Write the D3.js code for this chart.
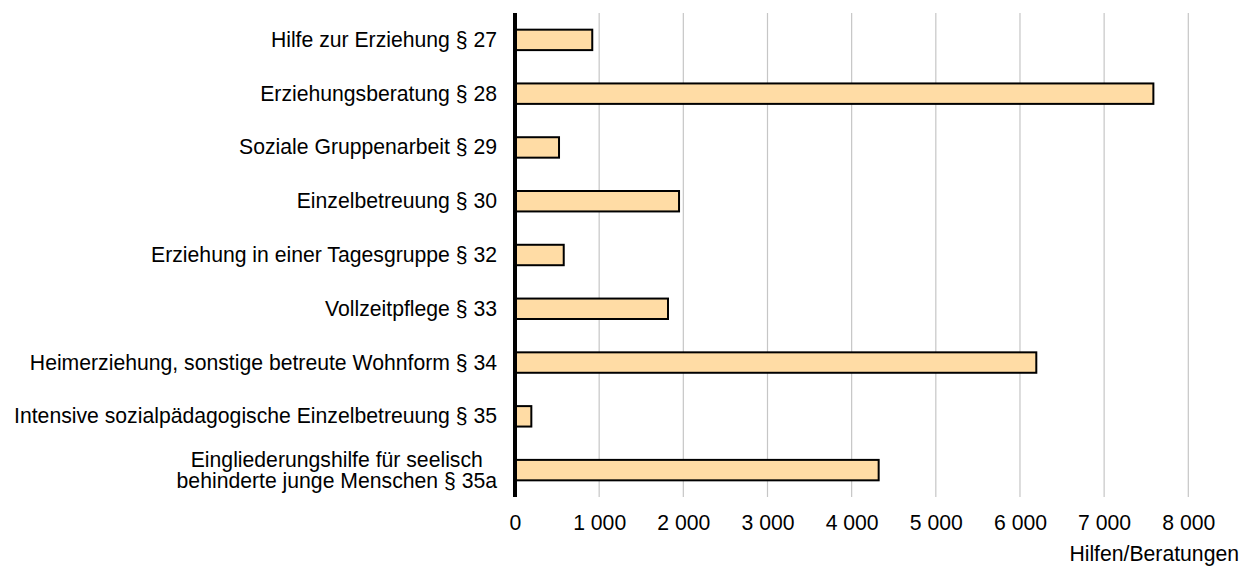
<!DOCTYPE html>
<html>
<head>
<meta charset="utf-8">
<script src="https://cdn.jsdelivr.net/npm/d3@7"></script>
<style>
  html, body { margin: 0; padding: 0; background: #fff; }
  svg text { font-family: Arial, "Liberation Sans", sans-serif; fill: #000; }
</style>
</head>
<body>
<svg id="chart" width="1241" height="573"></svg>
<script>
const categories = [
  ["Hilfe zur Erziehung § 27"],
  ["Erziehungsberatung § 28"],
  ["Soziale Gruppenarbeit § 29"],
  ["Einzelbetreuung § 30"],
  ["Erziehung in einer Tagesgruppe § 32"],
  ["Vollzeitpflege § 33"],
  ["Heimerziehung, sonstige betreute Wohnform § 34"],
  ["Intensive sozialpädagogische Einzelbetreuung § 35"],
  ["Eingliederungshilfe für seelisch", "behinderte junge Menschen § 35a"]
];
const values = [918, 7585, 523, 1949, 579, 1818, 6194, 194, 4321];
const tickValues = [0, 1000, 2000, 3000, 4000, 5000, 6000, 7000, 8000];
const tickLabels = ["0", "1 000", "2 000", "3 000", "4 000", "5 000", "6 000", "7 000", "8 000"];
const axisTitle = "Hilfen/Beratungen";

const svg = d3.select("#chart");
const fontSize = 21.2;
const labelRight = 497;

const x = d3.scaleLinear().domain([0, 8000]).range([515, 1188.3]);
const y = d3.scaleBand()
  .domain(d3.range(categories.length))
  .range([13, 497])
  .paddingInner(0.62)
  .paddingOuter(0.31);

// gridlines
svg.append("g").selectAll("line")
  .data(tickValues.slice(1))
  .join("line")
  .attr("x1", d => x(d)).attr("x2", d => x(d))
  .attr("y1", 13).attr("y2", 497)
  .attr("stroke", "#c6c6c6").attr("stroke-width", 1.2);

// bars
svg.append("g").selectAll("rect")
  .data(values)
  .join("rect")
  .attr("x", x(0))
  .attr("y", (d, i) => y(i))
  .attr("width", d => x(d) - x(0))
  .attr("height", y.bandwidth())
  .attr("fill", "#FFDCA5")
  .attr("stroke", "#000")
  .attr("stroke-width", 2);

// axis line
svg.append("line")
  .attr("x1", x(0)).attr("x2", x(0))
  .attr("y1", 13).attr("y2", 497)
  .attr("stroke", "#000").attr("stroke-width", 4);

// x tick labels via axis
const xAxis = d3.axisBottom(x)
  .tickValues(tickValues)
  .tickFormat((d, i) => tickLabels[i])
  .tickSize(0)
  .tickPadding(0);
const gx = svg.append("g").attr("transform", "translate(0,512)").call(xAxis);
gx.select(".domain").remove();
gx.selectAll("text")
  .attr("font-size", fontSize)
  .attr("font-family", "Arial, 'Liberation Sans', sans-serif")
  .attr("fill", "#000")
  .attr("dy", "0.84em");

// category labels (multi-line labels centered within their block, block right-aligned)
const labels = svg.append("g").selectAll("text")
  .data(categories)
  .join("text")
  .attr("font-size", fontSize)
  .attr("transform", (d, i) => `translate(0, ${y(i) + y.bandwidth() / 2})`);
labels.each(function(lines) {
  const t = d3.select(this);
  const n = lines.length;
  const lh = 21;
  const spans = lines.map((ln, j) => t.append("tspan")
      .attr("y", (j - (n - 1) / 2) * lh)
      .attr("dy", "0.33em")
      .text(ln));
  if (n === 1) {
    t.attr("text-anchor", "end");
    spans[0].attr("x", labelRight);
  } else {
    const maxW = d3.max(spans, s => s.node().getComputedTextLength());
    t.attr("text-anchor", "middle");
    spans.forEach(s => s.attr("x", labelRight - maxW / 2));
  }
});

// axis title
svg.append("text")
  .attr("x", 1239).attr("y", 561)
  .attr("text-anchor", "end")
  .attr("font-size", fontSize)
  .text(axisTitle);
</script>
</body>
</html>
